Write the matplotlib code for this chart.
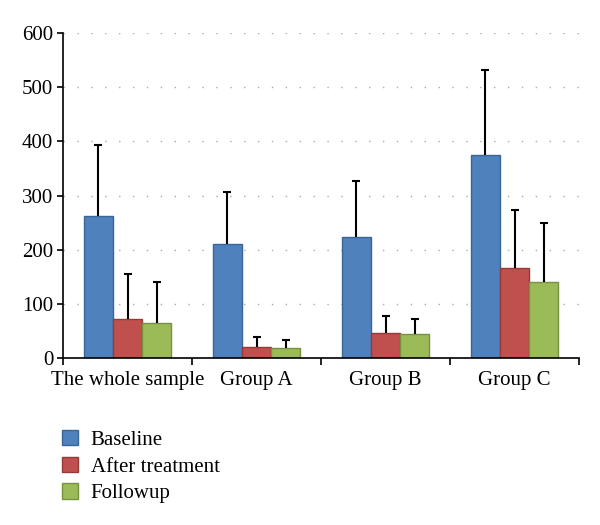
import numpy as np
import matplotlib.pyplot as plt

plt.rcParams['font.family'] = ['Liberation Serif', 'DejaVu Serif']

groups = ['The whole sample', 'Group A', 'Group B', 'Group C']
series = ['Baseline', 'After treatment', 'Followup']
baseline = [262, 210, 223, 375]
after = [73, 21, 46, 166]
followup = [64, 18, 44, 140]
baseline_err = [132, 96, 103, 156]
after_err = [83, 18, 32, 107]
followup_err = [76, 15, 29, 109]

colors = ['#4F81BD', '#C0504D', '#9BBB59']
edges = ['#3A6597', '#943B38', '#76923F']

fig = plt.figure(figsize=(6, 5.25), dpi=100)
ax = fig.add_axes([0.105, 0.318, 0.86, 0.619])

x = np.arange(len(groups))
w = 0.225
data = [baseline, after, followup]
errs = [baseline_err, after_err, followup_err]
for i in range(3):
    pos = x + (i - 1) * w
    vals = np.array(data[i])
    top = vals + np.array(errs[i])
    ax.bar(pos, vals, w, color=colors[i], edgecolor=edges[i],
           linewidth=1, label=series[i], zorder=2)
    # upper-only error bars with a single cap
    ax.vlines(pos, vals, top, color='black', linewidth=1.5, zorder=3)
    ax.plot(pos, top, ls='none', marker='_', markersize=6, mew=1.5,
            color='black', zorder=3)

ax.set_xlim(-0.5, 3.5)
ax.set_ylim(0, 600)
ax.set_yticks(range(0, 601, 100))
ax.yaxis.grid(True, linestyle=(0, (1, 9)), color='#aaaaaa', linewidth=1)
ax.set_axisbelow(True)
ax.set_xticks(x)
ax.set_xticklabels(groups, fontsize=15)
ax.set_xticks(np.arange(-0.5, 4, 1), minor=True)
ax.tick_params(axis='x', which='major', length=0, pad=9)
ax.tick_params(axis='x', which='minor', length=5, width=1.2, direction='out')
ax.tick_params(axis='y', labelsize=15, length=4, width=1.2, direction='out', pad=3)
for s in ['top', 'right']:
    ax.spines[s].set_visible(False)
ax.spines['left'].set_linewidth(1.2)
ax.spines['bottom'].set_linewidth(1.2)

fig.legend(loc='upper left', bbox_to_anchor=(0.0897, 0.197), frameon=False,
           fontsize=15, handlelength=0.75, handleheight=0.75, labelspacing=0.33,
           handletextpad=0.62, borderaxespad=0)

fig.savefig('out.png', dpi=100)
